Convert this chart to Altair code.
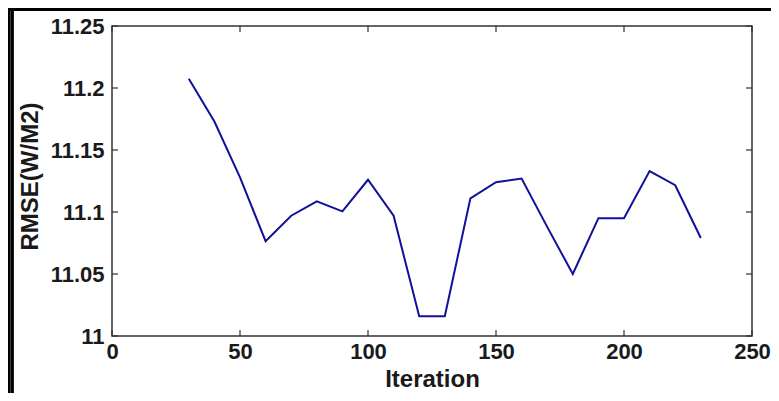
import altair as alt
import pandas as pd

iterations = [30, 40, 50, 60, 70, 80, 90, 100, 110, 120, 130, 140, 150, 160, 170, 180, 190, 200, 210, 220, 230]
rmse = [11.2075, 11.173, 11.128, 11.0765, 11.097, 11.1086, 11.1005, 11.126, 11.097, 11.016, 11.016,
        11.111, 11.124, 11.127, 11.088, 11.050, 11.095, 11.095, 11.133, 11.1216, 11.079]
x_ticks = [0, 50, 100, 150, 200, 250]
y_ticks = [11.0, 11.05, 11.1, 11.15, 11.2, 11.25]

W, H = 640, 310
PL, PT, PR, PB = 104, 18, 19, 57
FONT = "Liberation Sans"
AX = "#333333"

df = pd.DataFrame({"Iteration": iterations, "RMSE": rmse})
xt = pd.DataFrame({"x": x_ticks})
yt = pd.DataFrame({"y": y_ticks})

xs = alt.Scale(domain=[0, 250], nice=False, zero=False)
ys = alt.Scale(domain=[11.0, 11.25], nice=False, zero=False)

line = alt.Chart(df).mark_line(color="#10109a", strokeWidth=2).encode(
    x=alt.X("Iteration:Q", scale=xs,
            axis=alt.Axis(values=x_ticks, title="Iteration", grid=False, ticks=False,
                          domain=False, labelFlush=False, labelPadding=5,
                          titleY=50, titleBaseline="alphabetic")),
    y=alt.Y("RMSE:Q", scale=ys,
            axis=alt.Axis(values=y_ticks, format="~g", title="RMSE(W/M2)", grid=False,
                          ticks=False, domain=False, labelFlush=False, labelPadding=8,
                          titleX=-82, titleY=150, titleAngle=-90, titleBaseline="middle",
                          titleAlign="center")),
)

xtick_bot = alt.Chart(xt).mark_rule(color=AX, strokeWidth=1.2).encode(
    x=alt.X("x:Q", scale=xs), y=alt.value(H), y2=alt.value(H - 6))
xtick_top = alt.Chart(xt).mark_rule(color=AX, strokeWidth=1.2).encode(
    x=alt.X("x:Q", scale=xs), y=alt.value(0), y2=alt.value(6))
ytick_l = alt.Chart(yt).mark_rule(color=AX, strokeWidth=1.2).encode(
    y=alt.Y("y:Q", scale=ys), x=alt.value(0), x2=alt.value(6))
ytick_r = alt.Chart(yt).mark_rule(color=AX, strokeWidth=1.2).encode(
    y=alt.Y("y:Q", scale=ys), x=alt.value(W), x2=alt.value(W - 6))

frame_top = alt.Chart(xt).mark_rule(color="black", strokeWidth=3).encode(
    x=alt.value(-PL), x2=alt.value(W + PR), y=alt.value(-PT + 1.3))
frame_l1 = alt.Chart(xt).mark_rule(color="black", strokeWidth=2.2).encode(
    x=alt.value(-PL + 1.1), y=alt.value(-PT), y2=alt.value(H + PB))
frame_l2 = alt.Chart(xt).mark_rule(color="black", strokeWidth=2).encode(
    x=alt.value(-PL + 4.3), y=alt.value(-PT), y2=alt.value(H + PB))

chart = alt.layer(line, xtick_bot, xtick_top, ytick_l, ytick_r, frame_top, frame_l1, frame_l2).properties(
    width=W, height=H,
    autosize=alt.AutoSizeParams(type="none"),
    padding={"left": PL, "top": PT, "right": PR, "bottom": PB},
    background="white",
).configure_view(
    stroke=AX, strokeWidth=1.5
).configure_axis(
    labelFont=FONT, labelFontSize=22, labelFontWeight="bold", labelColor="#1a1a1a",
    titleFont=FONT, titleFontSize=24, titleFontWeight="bold", titleColor="#1a1a1a",
)

chart.save("out.html", embed_options={"renderer": "svg", "actions": False})
